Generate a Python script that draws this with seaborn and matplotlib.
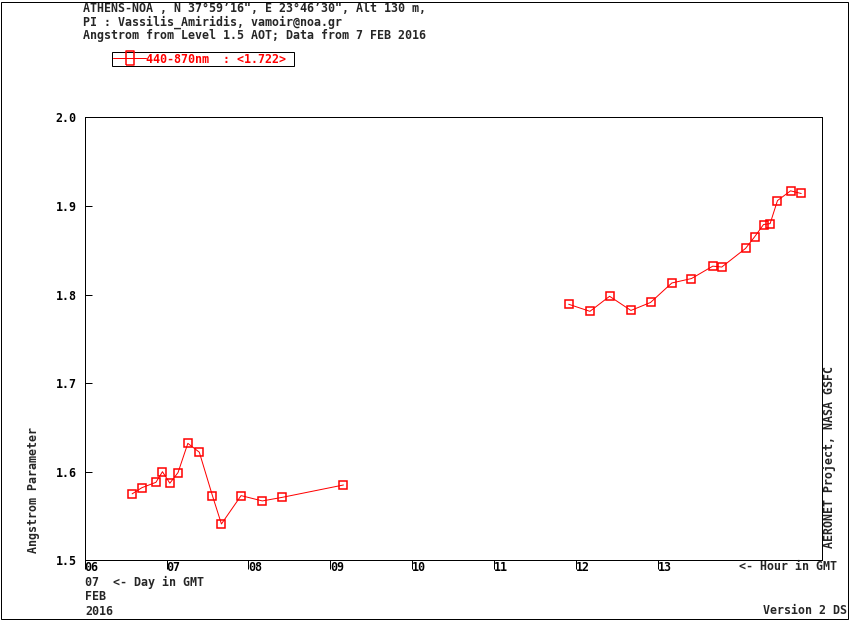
import numpy as np
import pandas as pd
import seaborn as sns
import matplotlib.pyplot as plt
from matplotlib.lines import Line2D
from matplotlib.patches import Rectangle

# hour of day (GMT) and Angstrom 440-870nm, 7 FEB 2016
morning_hours = [6.58, 6.70, 6.87, 6.95, 7.04, 7.14, 7.26, 7.40, 7.56, 7.67,
                 7.91, 8.17, 8.41, 9.16]
morning_angstrom = [1.575, 1.582, 1.588, 1.600, 1.587, 1.599, 1.632, 1.622,
                    1.573, 1.541, 1.573, 1.567, 1.571, 1.585]
afternoon_hours = [11.91, 12.17, 12.41, 12.67, 12.91, 13.17, 13.41, 13.67,
                   13.78, 14.07, 14.18, 14.29, 14.37, 14.46, 14.62, 14.75]
afternoon_angstrom = [1.789, 1.781, 1.798, 1.782, 1.791, 1.813, 1.818, 1.832,
                      1.831, 1.852, 1.865, 1.879, 1.880, 1.906, 1.917, 1.914]
hour_ticks = [6, 7, 8, 9, 10, 11, 12, 13]
hour_labels = ["06", "07", "08", "09", "10", "11", "12", "13"]
angstrom_ticks = [1.5, 1.6, 1.7, 1.8, 1.9, 2.0]
legend_label = "440-870nm  : <1.722> "

df = pd.DataFrame({
    "hour": morning_hours + afternoon_hours,
    "angstrom": morning_angstrom + afternoon_angstrom,
    "segment": ["am"] * len(morning_hours) + ["pm"] * len(afternoon_hours),
})

sns.set_style("ticks")
plt.rcParams["font.family"] = ["DejaVu Sans Mono"]
plt.rcParams["font.weight"] = "bold"
fs = 8.4
px = 0.72

fig = plt.figure(figsize=(8.5, 6.2), dpi=100)
ax = fig.add_axes([0.0996, 0.0963, 0.8671, 0.7145])

sns.lineplot(data=df, x="hour", y="angstrom", units="segment", estimator=None,
             color="red", linewidth=px, marker="s", markersize=6.2,
             markerfacecolor="none", markeredgecolor="red", markeredgewidth=1.1,
             sort=False, ax=ax)

ax.set_xlim(6, 15)
ax.set_ylim(1.5, 2.0)
ax.set_xticks(hour_ticks)
ax.set_xticklabels(hour_labels, ha="left", fontsize=fs, fontweight="bold")
ax.set_yticks(angstrom_ticks)
ax.set_yticklabels([f"{v:.1f}" for v in angstrom_ticks], fontsize=fs, fontweight="bold")
ax.tick_params(axis="x", direction="out", length=6.5, width=px, pad=-6.0, colors="black")
ax.tick_params(axis="y", direction="in", length=5, width=px, pad=5.8, colors="black")
ax.set_xlabel("")
ax.set_ylabel("")
for s in ax.spines.values():
    s.set_visible(True)
    s.set_linewidth(px)
    s.set_color("black")

# legend box, tall narrow marker like the original
tall_box = [(-0.27, -0.5), (0.27, -0.5), (0.27, 0.5), (-0.27, 0.5), (-0.27, -0.5)]
handle = Line2D([], [], color="red", linewidth=px, marker=tall_box, markersize=9.5,
                markerfacecolor="none", markeredgecolor="red", markeredgewidth=1.1)
leg = fig.legend([handle], [legend_label], loc="upper left",
                 bbox_to_anchor=(112 / 850, 1 - 52 / 620), borderaxespad=0,
                 borderpad=0.05, handlelength=2.9, handletextpad=0.0,
                 fancybox=False, framealpha=1, edgecolor="black",
                 prop={"family": "DejaVu Sans Mono", "weight": "bold", "size": fs},
                 labelcolor="red")
leg.get_frame().set_linewidth(px)

def ftext(x, y, s, **kw):
    fig.text(x / 850, 1 - y / 620, s, fontsize=fs, fontweight="bold", **kw)

ftext(83, 9, "ATHENS-NOA , N 37\u00b059\u201916\", E 23\u00b046\u201930\", Alt 130 m,", va="center")
ftext(83, 22.5, "PI : Vassilis_Amiridis, vamoir@noa.gr", va="center")
ftext(83, 36, "Angstrom from Level 1.5 AOT; Data from 7 FEB 2016", va="center")
ftext(85, 582, "07  <- Day in GMT", va="center")
ftext(85, 597, "FEB", va="center")
ftext(85, 611.5, "2016", va="center")
ftext(837, 567, "<- Hour in GMT", va="center", ha="right")
ftext(847, 611, "Version 2 DS", va="center", ha="right")
ftext(829, 548, "AERONET Project, NASA GSFC", rotation=90, va="bottom", ha="center")
ftext(33, 553, "Angstrom Parameter", rotation=90, va="bottom", ha="center")

fig.patches.append(Rectangle((1 / 850, 1 / 620), 847 / 850, 617 / 620, fill=False,
                             edgecolor="black", linewidth=px,
                             transform=fig.transFigure, figure=fig))

fig.savefig("out.png", dpi=100)
